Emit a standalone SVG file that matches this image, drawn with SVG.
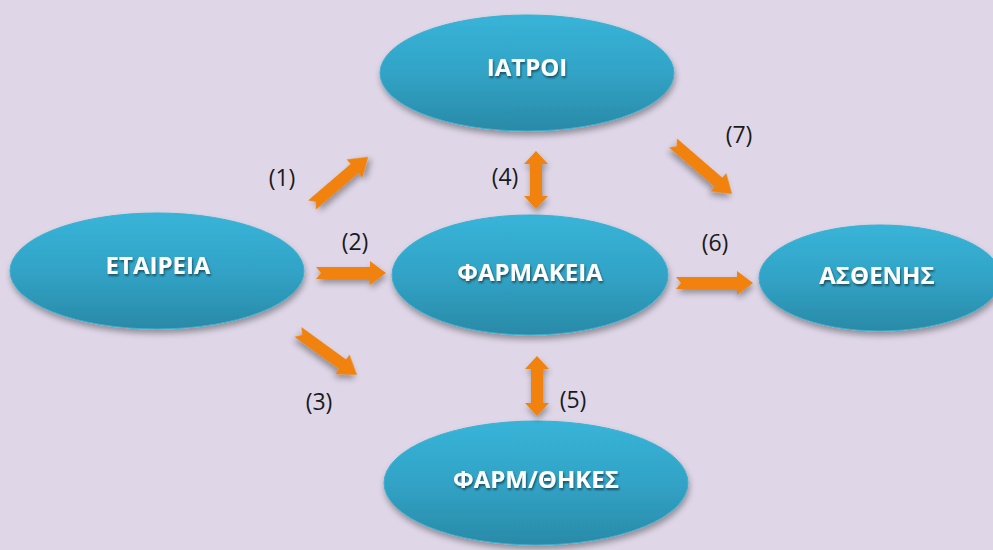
<svg xmlns="http://www.w3.org/2000/svg" width="993" height="550" viewBox="0 0 993 550">
<defs>
<linearGradient id="g" x1="0" y1="0" x2="0" y2="1">
<stop offset="0" stop-color="#38B4D8"/>
<stop offset="0.5" stop-color="#31A3C6"/>
<stop offset="1" stop-color="#2A8AA7"/>
</linearGradient>
<filter id="sh" x="-20%" y="-20%" width="140%" height="150%">
<feGaussianBlur in="SourceAlpha" stdDeviation="3"/>
<feOffset dx="1" dy="4" result="b"/>
<feComponentTransfer><feFuncA type="linear" slope="0.35"/></feComponentTransfer>
<feMerge><feMergeNode/><feMergeNode in="SourceGraphic"/></feMerge>
</filter>
<filter id="ts" x="-10%" y="-30%" width="120%" height="160%">
<feGaussianBlur in="SourceAlpha" stdDeviation="1"/>
<feOffset dx="1" dy="1.5"/>
<feComponentTransfer><feFuncA type="linear" slope="0.5"/></feComponentTransfer>
<feMerge><feMergeNode/><feMergeNode in="SourceGraphic"/></feMerge>
</filter>
</defs>
<style>
.node ellipse{fill:url(#g);stroke:#3BB0D0;stroke-width:1;filter:url(#sh)}
.node text{font-family:"Open Sans","Liberation Sans",sans-serif;font-weight:bold;font-size:24px;fill:#fff;text-anchor:middle;filter:url(#ts)}
.arr{fill:#F0820F;filter:url(#sh)}
.lbl{font-family:"Open Sans","Liberation Sans",sans-serif;font-size:23px;fill:#1a1a1a;text-anchor:middle}
</style>
<rect width="993" height="550" fill="#DFD7E8"/>
<g id="iatroi" class="node"><ellipse cx="527" cy="73" rx="147" ry="58"/><text x="527" y="76">ΙΑΤΡΟΙ</text></g>
<g id="etaireia" class="node"><ellipse cx="157" cy="271" rx="147" ry="58"/><text x="158" y="274">ΕΤΑΙΡΕΙΑ</text></g>
<g id="farmakeia" class="node"><ellipse cx="530" cy="275" rx="138" ry="60"/><text x="530" y="281">ΦΑΡΜΑΚΕΙΑ</text></g>
<g id="asthenis" class="node"><ellipse cx="880" cy="278" rx="121" ry="53"/><text x="877" y="284">ΑΣΘΕΝΗΣ</text></g>
<g id="farmothikes" class="node"><ellipse cx="536" cy="483" rx="152" ry="62"/><text x="536" y="488">ΦΑΡΜ/ΘΗΚΕΣ</text></g>
<g id="connectors">
<path class="arr" transform="translate(312,205) rotate(-40.6)" d="M0,-6 H56 V-12 L74,0 L56,12 V6 H0 L5,0 Z"/>
<path class="arr" transform="translate(316,273)" d="M0,-6 H54 V-12 L70,0 L54,12 V6 H0 L5,0 Z"/>
<path class="arr" transform="translate(298,332) rotate(36)" d="M0,-6 H55 V-12 L73,0 L55,12 V6 H0 L5,0 Z"/>
<path class="arr" transform="translate(676,283)" d="M0,-6 H61 V-12 L77,0 L61,12 V6 H0 L5,0 Z"/>
<path class="arr" transform="translate(673,143) rotate(40.8)" d="M0,-6 H60 V-12 L78,0 L60,12 V6 H0 L5,0 Z"/>
<path class="arr" d="M536,151 L548,164 H542 V196 H548 L536,209 L524,196 H530 V164 H524 Z"/>
<path class="arr" d="M537,356 L549,369 H543 V403 H549 L537,416 L525,403 H531 V369 H525 Z"/>
</g>
<g id="labels">
<text class="lbl" x="282" y="186">(1)</text>
<text class="lbl" x="355" y="250">(2)</text>
<text class="lbl" x="319" y="410">(3)</text>
<text class="lbl" x="505" y="185">(4)</text>
<text class="lbl" x="573" y="408">(5)</text>
<text class="lbl" x="715" y="251">(6)</text>
<text class="lbl" x="739" y="143">(7)</text>
</g>
</svg>
